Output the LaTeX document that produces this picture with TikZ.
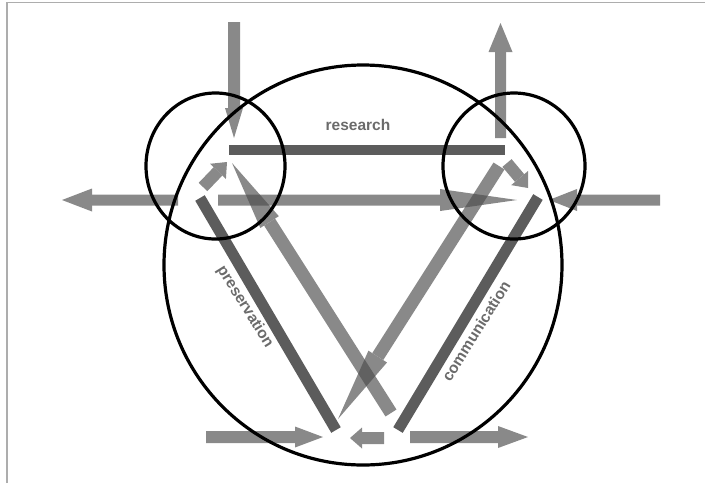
\documentclass[tikz,border=0pt]{standalone}
\usepackage{fontspec}
\setmainfont{Liberation Sans}
\usetikzlibrary{arrows.meta}
\definecolor{lightar}{gray}{0.3}
\definecolor{darkbar}{gray}{0.36}
\definecolor{txtgray}{gray}{0.42}
\definecolor{framegray}{gray}{0.68}
\newcommand{\garrow}[5]{%
  \begin{scope}[transparency group, opacity=0.66]
    \draw[draw=lightar, line width=#1, -{Triangle[length=#2,width=#3,line width=0pt]}] (#4) -- (#5);
  \end{scope}}
\begin{document}
\begin{tikzpicture}[x=1pt,y=-1pt,
  dbar/.style={draw=darkbar, line width=#1},
  dbar/.default=11pt,
  ring/.style={draw=black, line width=3.2pt},
  lbl/.style={text=txtgray, font=\fontsize{15.5}{18}\selectfont\bfseries, inner sep=0pt}]
\useasboundingbox (0,0) rectangle (705,483);
% frame
\draw[framegray, line width=1.5pt] (7,483) -- (7,2.5) -- (705,2.5);
% coordinates
\coordinate (tlA) at (234,22);   \coordinate (tlB) at (234,138);
\coordinate (trA) at (500.5,138);\coordinate (trB) at (500.5,23);
\coordinate (lhA) at (178,200);  \coordinate (lhB) at (62,200);
\coordinate (mhA) at (218,200);  \coordinate (mhB) at (517,200);
\coordinate (rhA) at (660,200);  \coordinate (rhB) at (549,200);
\coordinate (slA) at (203,187);  \coordinate (slB) at (227,162);
\coordinate (srA) at (507,163);  \coordinate (srB) at (528,188);
\coordinate (dA1) at (391,413);  \coordinate (dA2) at (232,163);
\coordinate (dB1) at (499,166);  \coordinate (dB2) at (338,419);
\coordinate (blA) at (206,437);  \coordinate (blB) at (323,437);
\coordinate (bmA) at (384,438);  \coordinate (bmB) at (350,438);
\coordinate (brA) at (410,437);  \coordinate (brB) at (528,437);
\coordinate (rsA) at (229,150);  \coordinate (rsB) at (505,150);
\coordinate (prA) at (200,198);  \coordinate (prB) at (336,430);
\coordinate (cmA) at (538,197);  \coordinate (cmB) at (398,430);
% light arrows
\garrow{12pt}{30pt}{18pt}{tlA}{tlB}
\garrow{11pt}{29pt}{24pt}{trA}{trB}
\garrow{11pt}{30pt}{23pt}{lhA}{lhB}
\garrow{11pt}{77pt}{22pt}{mhA}{mhB}
\garrow{11pt}{28pt}{22pt}{rhA}{rhB}
\garrow{12pt}{13pt}{22pt}{slA}{slB}
\garrow{12pt}{13pt}{22pt}{srA}{srB}
\garrow{13pt}{70pt}{22pt}{dA1}{dA2}
\garrow{13pt}{74pt}{22pt}{dB1}{dB2}
\garrow{12pt}{28pt}{21pt}{blA}{blB}
\garrow{12pt}{12pt}{21pt}{bmA}{bmB}
\garrow{12pt}{30pt}{22pt}{brA}{brB}
% dark bars
\draw[dbar=10pt] (rsA) -- (rsB);
\draw[dbar=11pt] (prA) -- (prB);
\draw[dbar=11pt] (cmA) -- (cmB);
% labels
\node[lbl] (research) at (358,125) {research};
\node[lbl, rotate=-58] (preservation) at (245,307) {preservation};
\node[lbl, rotate=58] (communication) at (476,331) {communication};
% circles
\draw[ring] (363,265) ellipse [x radius=199pt, y radius=200pt];
\draw[ring] (215.5,166) ellipse [x radius=69.5pt, y radius=73pt];
\draw[ring] (514,166) ellipse [x radius=71pt, y radius=73pt];
\end{tikzpicture}
\end{document}
